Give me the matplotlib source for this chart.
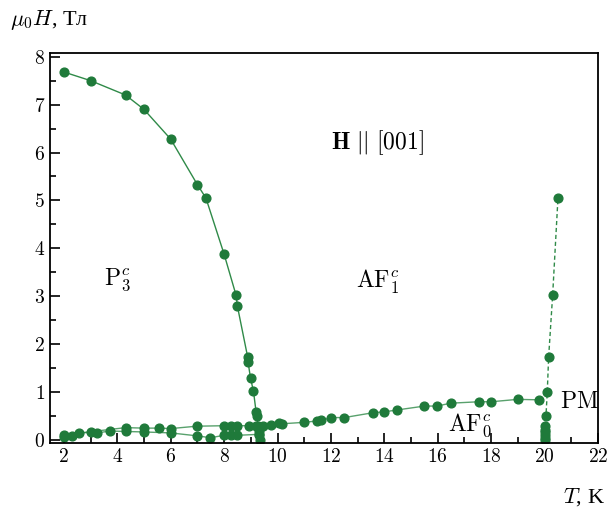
import matplotlib
matplotlib.use("Agg")
import matplotlib.pyplot as plt
from matplotlib.ticker import MultipleLocator

plt.rcParams["font.family"] = ["cmr10", "DejaVu Serif"]
plt.rcParams["mathtext.fontset"] = "cm"
plt.rcParams["axes.formatter.use_mathtext"] = True

GREEN = "#1f7a3a"
LINE = "#2f8a48"

# граница P3 / AF1
T_p3 = [2.0, 3.0, 4.31, 5.0, 6.0, 7.0, 7.32, 8.0, 8.45, 8.5, 8.88, 8.9, 8.99,
        9.1, 9.2, 9.23, 9.27, 9.3, 9.32, 9.33]
H_p3 = [7.68, 7.5, 7.2, 6.9, 6.28, 5.33, 5.05, 3.88, 3.02, 2.79, 1.74, 1.62, 1.29,
        1.02, 0.58, 0.5, 0.3, 0.2, 0.1, 0.0]

# нижняя граница AF1 (верхняя линия малых полей)
T_hi = [2.0, 4.31, 5.0, 5.58, 6.0, 6.97, 8.0, 8.25, 8.5, 8.94, 9.2, 9.45, 9.76,
        10.07, 10.15, 10.99, 11.49, 11.63, 12.0, 12.5, 13.56, 14.0, 14.49, 15.5,
        15.97, 16.48, 17.54, 18.0, 18.99, 19.8]
H_hi = [0.11, 0.26, 0.25, 0.25, 0.24, 0.29, 0.3, 0.3, 0.3, 0.3, 0.29, 0.3, 0.32,
        0.35, 0.34, 0.37, 0.4, 0.41, 0.47, 0.47, 0.57, 0.59, 0.63, 0.71,
        0.71, 0.77, 0.8, 0.8, 0.85, 0.84]

# нижняя линия малых полей
T_lo = [2.0, 2.31, 2.57, 3.0, 3.26, 3.73, 4.31, 5.0, 6.0, 6.97, 7.49, 8.0, 8.25, 8.5, 9.3]
H_lo = [0.07, 0.09, 0.15, 0.16, 0.15, 0.19, 0.18, 0.17, 0.15, 0.09, 0.05, 0.1, 0.1, 0.1, 0.12]

# граница AF0 / PM
T_pm = [20.02, 20.05, 20.1, 20.15, 20.3, 20.5]
H_pm = [0.0, 0.5, 1.01, 1.73, 3.02, 5.05]
T_pm_extra = [20.02, 20.02, 20.02, 20.02, 20.02]
H_pm_extra = [0.05, 0.1, 0.17, 0.22, 0.3]

fig = plt.figure(figsize=(6.09, 5.08), dpi=100)
ax = fig.add_axes([0.082, 0.128, 0.900, 0.768])

ax.plot(T_p3, H_p3, "-", color=LINE, lw=1.0)
ax.plot(T_hi, H_hi, "-", color=LINE, lw=1.0, alpha=0.8)
ax.plot(T_lo, H_lo, "-", color=LINE, lw=1.0, alpha=0.8)
ax.plot(T_pm, H_pm, "--", color=LINE, lw=1.0, dashes=(3, 2))

ms = 6.3
for T, H in [(T_p3, H_p3), (T_hi, H_hi), (T_lo, H_lo), (T_pm, H_pm),
             (T_pm_extra, H_pm_extra)]:
    ax.plot(T, H, "o", color=GREEN, ms=ms, mec=GREEN, lw=0)

ax.set_xlim(1.48, 22)
ax.set_ylim(-0.06, 8.08)
ax.xaxis.set_major_locator(MultipleLocator(2))
ax.xaxis.set_minor_locator(MultipleLocator(1))
ax.yaxis.set_major_locator(MultipleLocator(1))
ax.yaxis.set_minor_locator(MultipleLocator(0.5))
ax.tick_params(which="both", direction="in", top=False, right=False,
               labelsize=14, width=1.2)
ax.tick_params(which="major", length=7)
ax.tick_params(which="minor", length=4)
for s in ax.spines.values():
    s.set_linewidth(1.3)

fs = 17
ax.text(4.0, 3.35, r"$\mathrm{P}_3^c$", fontsize=fs, ha="center", va="center")
ax.text(13.76, 3.3, r"$\mathrm{AF}_1^c$", fontsize=fs, ha="center", va="center")
ax.text(13.76, 6.2, r"$\mathbf{H}\ ||\ [001]$", fontsize=fs, ha="center", va="center")
ax.text(17.2, 0.3, r"$\mathrm{AF}_0^c$", fontsize=fs, ha="center", va="center")
ax.text(21.3, 0.8, r"$\mathrm{PM}$", fontsize=fs, ha="center", va="center")

fig.text(10 / 609, 1 - 20 / 508, r"$\mu_0H$, Тл", fontsize=16, ha="left", va="center",
         family=["Liberation Serif"])
fig.text(605 / 609, 1 - 497 / 508, r"$T$, K", fontsize=16, ha="right", va="center",
         family=["Liberation Serif"])

fig.savefig("out.png", dpi=100)
